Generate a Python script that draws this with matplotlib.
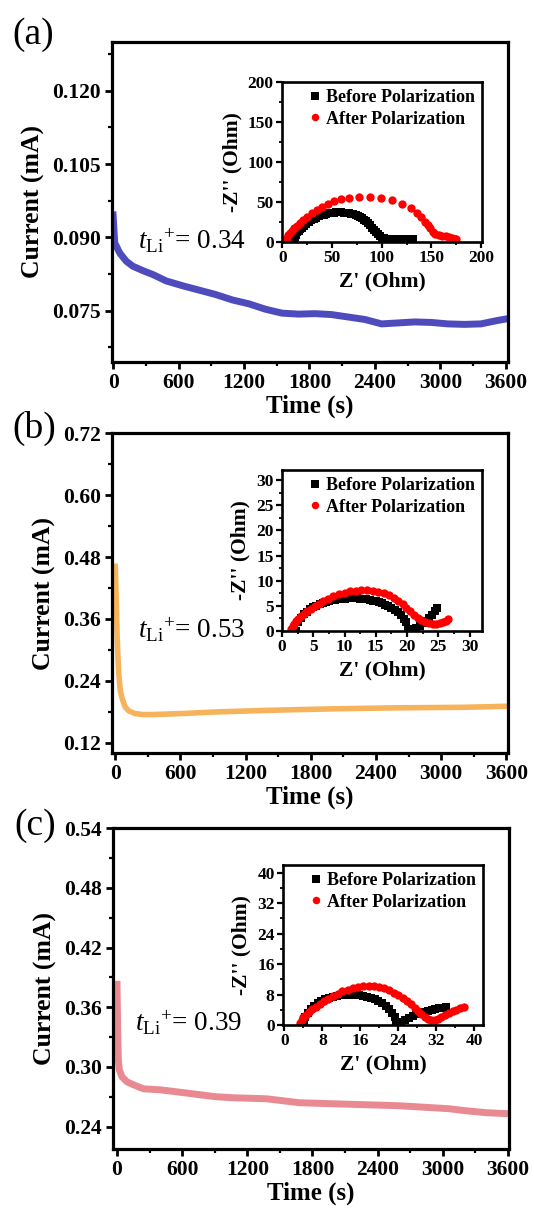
import matplotlib
matplotlib.use('Agg')
import matplotlib.pyplot as plt
from matplotlib.ticker import AutoMinorLocator, FormatStrFormatter

plt.rcParams['font.family'] = ['Liberation Serif', 'DejaVu Serif']
plt.rcParams['mathtext.fontset'] = 'custom'
plt.rcParams['mathtext.rm'] = 'Liberation Serif'
plt.rcParams['mathtext.it'] = 'Liberation Serif:italic'
plt.rcParams['mathtext.bf'] = 'Liberation Serif:bold'

# ---------------- data ----------------
time_ticks = [0, 600, 1200, 1800, 2400, 3000, 3600]

t_a = [0, 15, 61, 122, 182, 273, 365, 486, 638, 790, 942, 1094, 1246, 1397, 1549, 1701,
       1853, 2005, 2157, 2309, 2461, 2613, 2765, 2917, 3068, 3220, 3372, 3524, 3600]
i_a = [0.0946, 0.0889, 0.0868, 0.0851, 0.0841, 0.0832, 0.0824, 0.0811, 0.0801, 0.0792,
       0.0783, 0.0772, 0.0764, 0.0753, 0.0745, 0.0743, 0.0744, 0.0742, 0.0737, 0.0732,
       0.0723, 0.0725, 0.0727, 0.0726, 0.0723, 0.0722, 0.0723, 0.0730, 0.0733]
yticks_a = [0.075, 0.090, 0.105, 0.120]

t_b = [0, 8, 16, 24, 32, 46, 62, 90, 125, 180, 250, 350, 624, 928, 1385, 1993, 2602, 3210, 3600]
i_b = [0.462, 0.409, 0.336, 0.290, 0.255, 0.222, 0.207, 0.190, 0.182, 0.177, 0.175, 0.175,
       0.177, 0.180, 0.183, 0.186, 0.188, 0.189, 0.191]
yticks_b = [0.12, 0.24, 0.36, 0.48, 0.60, 0.72]

t_c = [0, 6, 12, 21, 46, 92, 153, 244, 397, 550, 764, 917, 1070, 1375, 1681, 1986, 2292,
       2598, 2903, 3056, 3209, 3400, 3600]
i_c = [0.383, 0.338, 0.308, 0.297, 0.290, 0.285, 0.282, 0.278, 0.277, 0.275, 0.272, 0.270,
       0.269, 0.268, 0.264, 0.263, 0.262, 0.261, 0.259, 0.258, 0.256, 0.254, 0.253]
yticks_c = [0.24, 0.30, 0.36, 0.42, 0.48, 0.54]

# EIS insets: Z' and -Z''
zb_a = [11, 11.5, 12.5, 13.5, 15, 16.5, 18, 19.5, 21.5, 24, 26.5, 29, 31.5, 34, 36.5, 39, 41.5,
        44, 46.5, 49, 51.5, 54, 56.5, 59, 61.5, 64, 66.5, 69, 71.5, 74, 76.5, 78.5, 80.5, 82.5,
        84.5, 86.5, 88.5, 90.5, 92.5, 94.5, 96.5, 98.5, 100.5, 102.5, 105, 108, 111, 114, 117,
        120, 123, 126, 129, 131]
zbi_a = [0, 3, 6.5, 9, 12, 14, 15.8, 17, 19.5, 22, 24.5, 27, 29, 30.5, 32, 33.3, 34.3, 35.2,
         36, 36.5, 36.8, 37, 37, 37, 36.8, 36.5, 36, 35.2, 34.4, 33.5, 32.2, 31, 29.5, 28, 26,
         23.5, 21, 18, 15.5, 13, 10.5, 7.5, 5.5, 4.5, 4, 3.8, 3.6, 3.5, 3.4, 3.3, 3.3, 3.2, 3.2, 3.2]
za_a = [2, 3.2, 4.4, 6, 7.8, 9.6, 12, 14.5, 17.5, 21, 25, 29.5, 34.5, 40, 46, 52, 58.5, 66.7,
        77.4, 88.6, 99.7, 110, 120, 129, 135.7, 140, 143.5, 146.5, 149, 151.5, 154, 157.6, 161,
        164.5, 168, 171, 173.5, 175]
zai_a = [1, 3.2, 5.4, 8.5, 11.5, 14, 17.5, 20.5, 24, 27.5, 31.5, 36, 40, 44, 48, 51.3, 53.8,
         55.5, 56.5, 56.5, 55.4, 52.5, 48, 43, 36.7, 31, 25.5, 21, 17, 13, 10, 8.7, 8, 7.3, 6.3,
         5.4, 4.3, 3.3]
ticks_a = [0, 50, 100, 150, 200]

zb_b = [2.3, 2.6, 3.0, 3.5, 4.0, 4.5, 5.0, 5.5, 6.0, 6.5, 7.0, 7.5, 8.0, 8.5, 9.0, 9.5, 10.0,
        10.5, 11.0, 11.5, 12.0, 12.5, 13.0, 13.5, 14.0, 14.5, 15.0, 15.5, 16.0, 16.5, 17.0,
        17.5, 18.0, 18.5, 19.0, 19.5, 19.8, 20.1, 20.5, 21.0, 21.5, 22.0, 22.5, 23.0, 23.5,
        24.0, 24.5, 24.8]
zbi_b = [0, 1.7, 2.5, 3.3, 3.8, 4.3, 4.7, 5.0, 5.3, 5.5, 5.7, 5.9, 6.1, 6.2, 6.3, 6.4, 6.45,
         6.5, 6.5, 6.5, 6.5, 6.45, 6.4, 6.3, 6.2, 6.0, 5.9, 5.7, 5.5, 5.2, 4.9, 4.6, 4.2, 3.7,
         3.1, 2.3, 1.7, 0.3, 0.2, 0.3, 0.6, 1.0, 1.5, 2.0, 2.6, 3.2, 3.9, 4.5]
za_b = [1.5, 1.7, 1.9, 2.2, 2.6, 3.0, 3.5, 4.0, 4.6, 5.2, 5.9, 6.6, 7.4, 8.2, 9.1, 10.0, 10.9,
        11.8, 12.7, 13.6, 14.5, 15.4, 16.3, 17.1, 17.9, 18.6, 19.3, 19.9, 20.5, 21.1, 21.7,
        22.3, 22.9, 23.5, 24.1, 24.7, 25.3, 25.8, 26.3, 26.6]
zai_b = [0.3, 0.9, 1.4, 1.9, 2.4, 2.9, 3.4, 3.9, 4.4, 4.9, 5.4, 5.9, 6.4, 6.9, 7.3, 7.6, 7.9,
         8.0, 8.1, 8.1, 8.0, 7.8, 7.5, 7.1, 6.6, 6.0, 5.3, 4.6, 3.9, 3.2, 2.6, 2.1, 1.7, 1.5,
         1.4, 1.4, 1.5, 1.7, 2.0, 2.3]
ticks_b = [0, 5, 10, 15, 20, 25, 30]

zb_c = [4.1, 4.4, 4.9, 5.5, 6.2, 7.0, 7.8, 8.6, 9.4, 10.2, 11.0, 11.8, 12.6, 13.4, 14.2, 15.0,
        15.8, 16.6, 17.4, 18.2, 19.0, 19.8, 20.6, 21.4, 22.1, 22.7, 23.2, 23.5, 24.0, 24.6,
        25.4, 26.2, 27.0, 27.8, 28.6, 29.4, 30.2, 31.0, 31.8, 32.6, 33.4, 34.0]
zbi_c = [0, 2.0, 3.2, 4.1, 5.0, 5.7, 6.3, 6.8, 7.1, 7.4, 7.7, 7.8, 7.9, 8.0, 8.0, 7.9, 7.8,
         7.7, 7.4, 7.1, 6.8, 6.3, 5.7, 5.0, 4.1, 3.2, 2.0, 0.3, 0.5, 0.9, 1.4, 1.9, 2.4, 2.8,
         3.2, 3.5, 3.8, 4.0, 4.2, 4.4, 4.5, 4.6]
za_c = [3.3, 3.6, 4.0, 4.5, 5.1, 5.8, 6.6, 7.4, 8.3, 9.2, 10.2, 11.2, 12.2, 13.3, 14.4, 15.5,
        16.6, 17.7, 18.8, 19.9, 21.0, 22.0, 23.0, 24.0, 24.9, 25.8, 26.6, 27.4, 28.1, 28.8,
        29.5, 30.2, 30.9, 31.6, 32.3, 33.0, 33.8, 34.6, 35.4, 36.2, 37.0, 37.7]
zai_c = [0.6, 1.3, 2.0, 2.7, 3.4, 4.1, 4.8, 5.5, 6.2, 6.9, 7.6, 8.2, 8.8, 9.3, 9.7, 10.0, 10.2,
         10.3, 10.2, 10.0, 9.6, 9.1, 8.5, 7.8, 7.0, 6.2, 5.4, 4.5, 3.7, 2.9, 2.2, 1.7, 1.4, 1.4,
         1.7, 2.1, 2.6, 3.1, 3.6, 4.0, 4.4, 4.7]
ticks_c = [0, 8, 16, 24, 32, 40]

# ---------------- layout ----------------
W, H = 534, 1209
fig = plt.figure(figsize=(W / 100, H / 100), dpi=100)


def px_axes(l, t, r, b):
    return fig.add_axes([l / W, 1 - b / H, (r - l) / W, (b - t) / H])


panels = [
    dict(label='(a)', lab_xy=(12, 35), main=(112, 42, 508, 362), inset=(282, 82, 482, 242),
         t=t_a, i=i_a, color='#4e4bbd', lw=5.0, yticks=yticks_a, fmt='%.3f',
         ylim=(0.0645, 0.1300), xlim=(-10, 3620), tl='0.34', tl_xy=(138, 249),
         zb=zb_a, zbi=zbi_a, za=za_a, zai=zai_a, zt=ticks_a, zlim=(-0.5, 201), zilim=(0, 200)),
    dict(label='(b)', lab_xy=(12, 428), main=(112, 433, 508, 753), inset=(282, 470, 482, 631),
         t=t_b, i=i_b, color='#f6b35b', lw=4.0, yticks=yticks_b, fmt='%.2f',
         ylim=(0.1005, 0.7202), xlim=(-30, 3615), tl='0.53', tl_xy=(138, 638),
         zb=zb_b, zbi=zbi_b, za=za_b, zai=zai_b, zt=ticks_b, zlim=(0, 32), zilim=(0, 32)),
    dict(label='(c)', lab_xy=(14, 826), main=(113, 828, 509, 1149), inset=(283, 865, 483, 1025),
         t=t_c, i=i_c, color='#e98a93', lw=5.0, yticks=yticks_c, fmt='%.2f',
         ylim=(0.2175, 0.5402), xlim=(-37, 3610), tl='0.39', tl_xy=(135, 1031),
         zb=zb_c, zbi=zbi_c, za=za_c, zai=zai_c, zt=ticks_c, zlim=(-0.3, 41.8), zilim=(0, 42)),
]

for p in panels:
    ax = px_axes(*p['main'])
    ax.plot(p['t'], p['i'], color=p['color'], lw=p['lw'], solid_joinstyle='round')
    ax.set_xlim(*p['xlim'])
    ax.set_ylim(*p['ylim'])
    ax.set_xticks(time_ticks)
    ax.set_yticks(p['yticks'])
    ax.yaxis.set_major_formatter(FormatStrFormatter(p['fmt']))
    ax.xaxis.set_minor_locator(AutoMinorLocator(2))
    ax.yaxis.set_minor_locator(AutoMinorLocator(2))
    for s in ax.spines.values():
        s.set_linewidth(2.3)
    ax.tick_params(which='major', direction='out', length=5, width=2, labelsize=15.5, pad=3)
    ax.tick_params(which='minor', direction='out', length=3, width=1.6)
    plt.setp(ax.get_xticklabels() + ax.get_yticklabels(), fontweight='bold')
    ax.set_xlabel('Time (s)', fontsize=18, fontweight='bold', labelpad=1)
    ax.set_ylabel('Current (mA)', fontsize=18.5, fontweight='bold', labelpad=5)

    fig.text(p['lab_xy'][0] / W, 1 - p['lab_xy'][1] / H, p['label'], fontsize=27,
             ha='left', va='center')
    fig.text(p['tl_xy'][0] / W, 1 - p['tl_xy'][1] / H,
             r'$t_{\mathrm{Li}}{}^{+}$= ' + p['tl'], fontsize=19.5, ha='left', va='baseline')

    ins = px_axes(*p['inset'])
    ins.plot(p['zb'], p['zbi'], ls='none', marker='s', ms=5.8, mew=0, color='black',
             label='Before Polarization')
    ins.plot(p['za'], p['zai'], ls='none', marker='o', ms=6.0, mew=0, color='#ff0000',
             label='After Polarization')
    ins.set_xlim(*p['zlim'])
    ins.set_ylim(*p['zilim'])
    ins.set_xticks(p['zt'])
    ins.set_yticks(p['zt'])
    ins.xaxis.set_minor_locator(AutoMinorLocator(2))
    ins.yaxis.set_minor_locator(AutoMinorLocator(2))
    for s in ins.spines.values():
        s.set_linewidth(1.9)
    ins.tick_params(which='major', direction='out', length=4, width=1.6, labelsize=12.5, pad=2)
    ins.tick_params(which='minor', direction='out', length=2.5, width=1.3)
    plt.setp(ins.get_xticklabels() + ins.get_yticklabels(), fontweight='bold')
    ins.set_xlabel("Z' (Ohm)", fontsize=15.5, fontweight='bold', labelpad=4)
    ins.set_ylabel("-Z'' (Ohm)", fontsize=15.5, fontweight='bold', labelpad=4)
    leg = ins.legend(loc='upper right', frameon=False, handlelength=0.5, handletextpad=0.35,
                     labelspacing=0.25, borderaxespad=0.2, borderpad=0.2, markerscale=0.9,
                     prop={'weight': 'bold', 'size': 13})

fig.savefig('out.png', dpi=100)
